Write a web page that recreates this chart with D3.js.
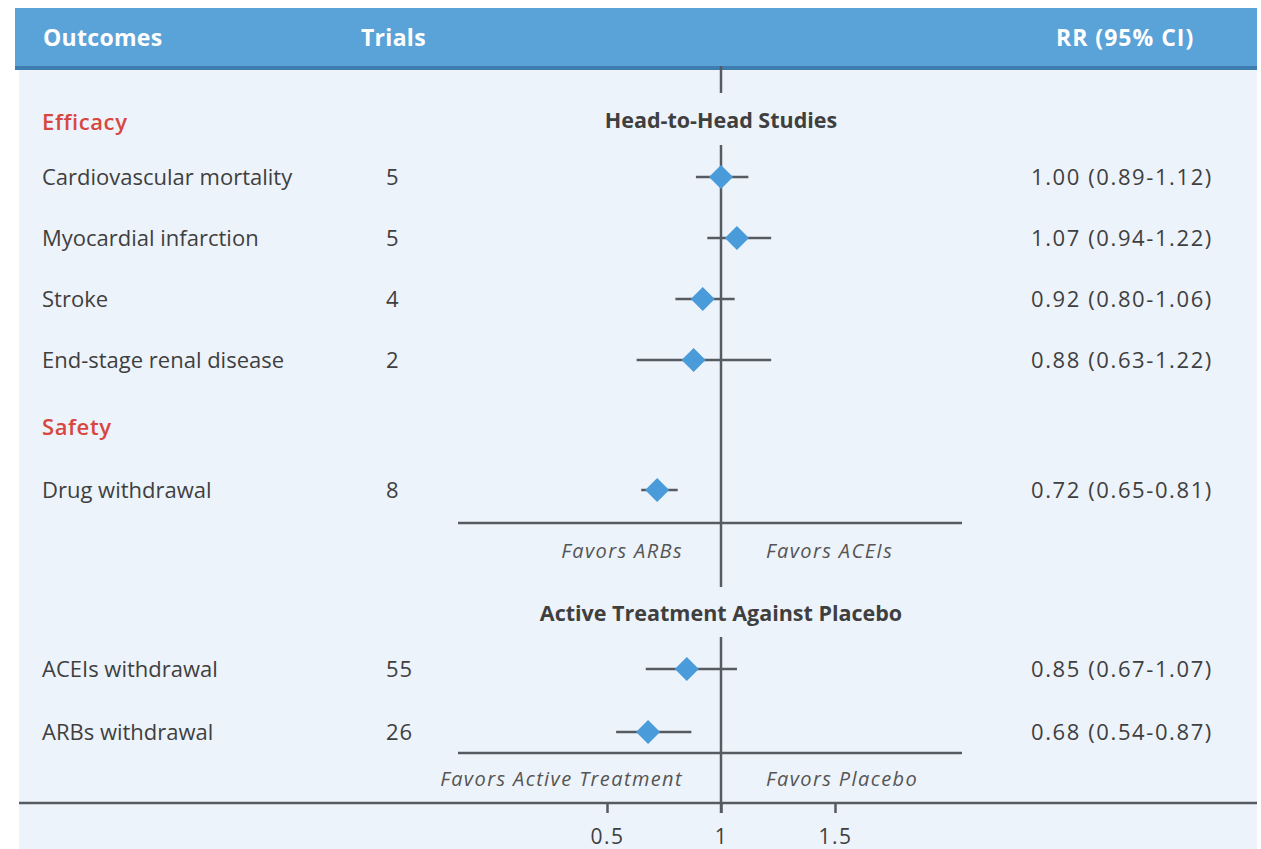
<!DOCTYPE html>
<html>
<head>
<meta charset="utf-8">
<script src="https://cdn.jsdelivr.net/npm/d3@7"></script>
<style>
  html, body { margin: 0; padding: 0; background: #ffffff; }
  svg { display: block; }
  text { font-family: "Open Sans", "Noto Sans", sans-serif; }
</style>
</head>
<body>
<svg id="chart" width="1261" height="849"></svg>
<script>
// Outcome rows of the forest plot
const outcomes = [
  "Cardiovascular mortality",
  "Myocardial infarction",
  "Stroke",
  "End-stage renal disease",
  "Drug withdrawal",
  "ACEIs withdrawal",
  "ARBs withdrawal"
];
const trials = [5, 5, 4, 2, 8, 55, 26];
const rr = [1.00, 1.07, 0.92, 0.88, 0.72, 0.85, 0.68];
const ciLow = [0.89, 0.94, 0.80, 0.63, 0.65, 0.67, 0.54];
const ciHigh = [1.12, 1.22, 1.06, 1.22, 0.81, 1.07, 0.87];

const xTicks = [0.5, 1, 1.5];
const headers = ["Outcomes", "Trials", "RR (95% CI)"];
const groupLabels = ["Efficacy", "Safety"];
const panelTitles = ["Head-to-Head Studies", "Active Treatment Against Placebo"];
const favorLabels = [["Favors ARBs", "Favors ACEIs"], ["Favors Active Treatment", "Favors Placebo"]];

// Vertical layout (pixel rows)
const rowY = [177, 238, 299, 360, 490, 669, 732];
const groupY = [122, 427];
const titleY = [120, 613];
const dividerY = [523, 753];
const favorY = [551, 779];
const axisY = 803;

const W = 1261, H = 849;
const C = {
  header: "#5aa3d9",
  headerEdge: "#3d7db0",
  panel: "#edf3fa",
  text: "#3f3f3f",
  red: "#d8473f",
  line: "#565b61",
  diamond: "#4a9bd9"
};

const svg = d3.select("#chart");

// x scale: relative risk
const x = d3.scaleLinear().domain([0, 1]).range([493, 721]);

// panel background
svg.append("rect").attr("x", 19).attr("y", 66).attr("width", 1238).attr("height", H - 66)
  .attr("fill", C.panel);

// header band
svg.append("rect").attr("x", 15).attr("y", 8).attr("width", 1242).attr("height", 62)
  .attr("fill", C.headerEdge);
svg.append("rect").attr("x", 15).attr("y", 8).attr("width", 1242).attr("height", 58)
  .attr("fill", C.header);

const headerX = [43, 361, 1056];
svg.selectAll("text.hdr").data(headers).join("text")
  .attr("class", "hdr")
  .attr("x", (d, i) => headerX[i])
  .attr("y", 38)
  .attr("dy", "0.35em")
  .attr("fill", "#ffffff")
  .attr("font-size", 23)
  .attr("font-weight", 700)
  .attr("letter-spacing", (d, i) => i === 2 ? 1 : 0.3)
  .text(d => d);

// null line at RR = 1, broken where the panel titles sit
const nullSegments = [[66, 93], [145, 587], [637, 813]];
svg.selectAll("line.null").data(nullSegments).join("line")
  .attr("class", "null")
  .attr("x1", x(1)).attr("x2", x(1))
  .attr("y1", d => d[0]).attr("y2", d => d[1])
  .attr("stroke", C.line).attr("stroke-width", 2.5);

// group labels
svg.selectAll("text.grp").data(groupLabels).join("text")
  .attr("class", "grp")
  .attr("x", 42).attr("y", (d, i) => groupY[i])
  .attr("dy", "0.35em")
  .attr("fill", C.red)
  .attr("font-size", 22)
  .attr("font-weight", 600)
  .attr("letter-spacing", 0.6)
  .text(d => d);

// panel titles
svg.selectAll("text.ttl").data(panelTitles).join("text")
  .attr("class", "ttl")
  .attr("x", x(1))
  .attr("y", (d, i) => titleY[i])
  .attr("dy", "0.35em")
  .attr("text-anchor", "middle")
  .attr("fill", C.text)
  .attr("font-size", 21.5)
  .attr("font-weight", 700)
  .text(d => d);

// outcome names
svg.selectAll("text.out").data(outcomes).join("text")
  .attr("class", "out")
  .attr("x", 42).attr("y", (d, i) => rowY[i])
  .attr("dy", "0.35em")
  .attr("fill", C.text)
  .attr("font-size", 22)
  .text(d => d);

// trial counts
svg.selectAll("text.trl").data(trials).join("text")
  .attr("class", "trl")
  .attr("x", 386).attr("y", (d, i) => rowY[i])
  .attr("dy", "0.35em")
  .attr("fill", C.text)
  .attr("font-size", 22)
  .attr("letter-spacing", 1)
  .text(d => d);

// RR (95% CI) column
const fmt = d3.format(".2f");
svg.selectAll("text.rr").data(rr).join("text")
  .attr("class", "rr")
  .attr("x", 1031).attr("y", (d, i) => rowY[i])
  .attr("dy", "0.35em")
  .attr("fill", C.text)
  .attr("font-size", 22)
  .attr("letter-spacing", 1.6)
  .text((d, i) => `${fmt(d)} (${fmt(ciLow[i])}-${fmt(ciHigh[i])})`);

// confidence intervals
svg.selectAll("line.ci").data(rr).join("line")
  .attr("class", "ci")
  .attr("x1", (d, i) => x(ciLow[i])).attr("x2", (d, i) => x(ciHigh[i]))
  .attr("y1", (d, i) => rowY[i]).attr("y2", (d, i) => rowY[i])
  .attr("stroke", C.line).attr("stroke-width", 2.5);

// point estimates as diamonds
const dr = 12;
svg.selectAll("path.est").data(rr).join("path")
  .attr("class", "est")
  .attr("transform", (d, i) => `translate(${x(d)},${rowY[i]})`)
  .attr("d", `M0,${-dr}L${dr},0L0,${dr}L${-dr},0Z`)
  .attr("fill", C.diamond);

// divider lines under each panel
svg.selectAll("line.div").data(dividerY).join("line")
  .attr("class", "div")
  .attr("x1", 458).attr("x2", 962)
  .attr("y1", d => d).attr("y2", d => d)
  .attr("stroke", C.line).attr("stroke-width", 2.5);

// favours labels
favorLabels.forEach((pair, i) => {
  svg.append("text")
    .attr("x", x(1) - 38).attr("y", favorY[i]).attr("dy", "0.35em")
    .attr("text-anchor", "end")
    .attr("fill", "#555")
    .attr("font-size", 20)
    .attr("font-style", "italic")
    .attr("letter-spacing", 1.4)
    .text(pair[0]);
  svg.append("text")
    .attr("x", x(1) + 45).attr("y", favorY[i]).attr("dy", "0.35em")
    .attr("text-anchor", "start")
    .attr("fill", "#555")
    .attr("font-size", 20)
    .attr("font-style", "italic")
    .attr("letter-spacing", 1.4)
    .text(pair[1]);
});

// bottom axis
svg.append("line")
  .attr("x1", 19).attr("x2", 1257)
  .attr("y1", axisY).attr("y2", axisY)
  .attr("stroke", C.line).attr("stroke-width", 2.5);

const axis = d3.axisBottom(x).tickValues(xTicks).tickSize(10).tickPadding(16)
  .tickFormat(d3.format("~g"));
const gAxis = svg.append("g").attr("transform", `translate(0,${axisY})`).call(axis);
gAxis.select(".domain").remove();
gAxis.selectAll(".tick line").attr("stroke", C.line).attr("stroke-width", 2.5);
gAxis.selectAll(".tick text")
  .attr("fill", C.text)
  .attr("font-size", 21)
  .attr("letter-spacing", 1.5)
  .style("font-family", "'Open Sans', 'Noto Sans', sans-serif");
</script>
</body>
</html>
